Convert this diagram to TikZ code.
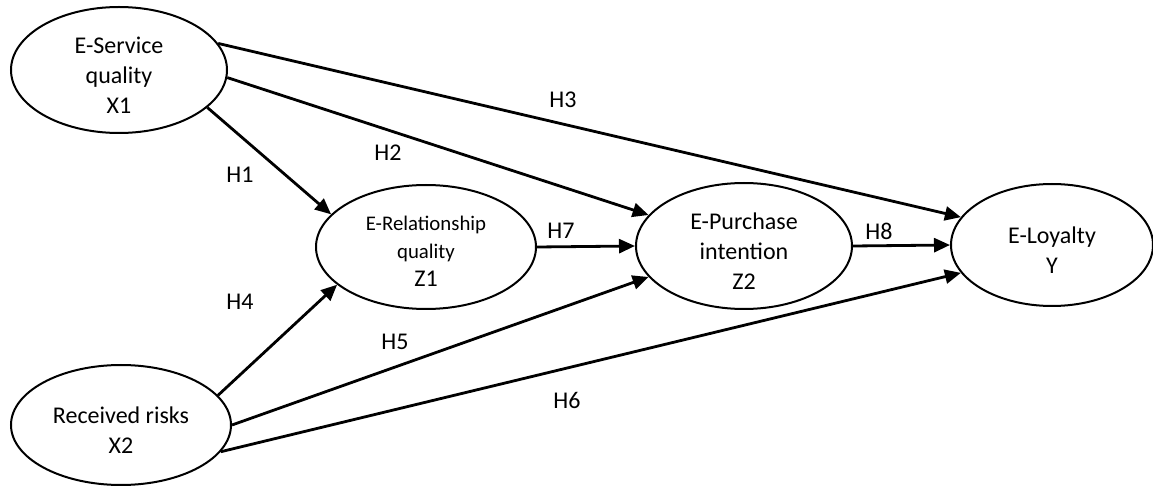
\documentclass[tikz,border=0pt]{standalone}
\usepackage{fontspec}
\setmainfont{Carlito}
\usetikzlibrary{shapes.geometric,arrows.meta}
\begin{document}
\begin{tikzpicture}[x=0.5pt,y=-0.5pt,
  construct/.style={draw,ellipse,line width=1pt,inner sep=0pt},
  ctext/.style={align=center,inner sep=0pt,yshift=-2.5pt,font=\fontsize{12}{15}\selectfont},
  csmall/.style={align=center,inner sep=0pt,yshift=-2pt,font=\fontsize{10.4}{14}\selectfont},
  link/.style={line width=1.4pt,-{Triangle[length=8pt,width=7pt]}},
  hyp/.style={font=\fontsize{12}{14}\selectfont,inner sep=0pt}]
\useasboundingbox (0,0) rectangle (1153,486);
\node[construct,minimum width=108pt,minimum height=63pt,
  label={[ctext]center:{E-Service\\quality\\X1}}] (X1) at (119,70) {};
\node[construct,minimum width=110pt,minimum height=60pt,
  label={[ctext]center:{Received risks\\X2}}] (X2) at (121,425) {};
\node[construct,minimum width=110pt,minimum height=62pt,
  label={[csmall]center:{E-Relationship\\quality\\\fontsize{12}{14}\selectfont Z1}}] (Z1) at (426,247) {};
\node[construct,minimum width=108pt,minimum height=63pt,
  label={[ctext]center:{E-Purchase\\intention\\Z2}}] (Z2) at (744,246) {};
\node[construct,minimum width=101pt,minimum height=61pt,
  label={[ctext]center:{E-Loyalty\\Y}}] (Y) at (1052,245) {};

\draw[link] (X1.-23) -- (Z1.161);
\draw[link] (X1.-4) -- (Z2.162.6);
\draw[link] (X1.15.6) -- (Y.163);
\draw[link] (X2.17.5) -- (Z1.203);
\draw[link] (X2.0.5) -- (Z2.198);
\draw[link] (X2.-15) -- (Y.197);
\draw[link] (Z1.east) -- (Z2.west);
\draw[link] (Z2.east) -- (Y.west);

\node[hyp] (h1) at (240,175) {H1};
\node[hyp] (h2) at (388,153) {H2};
\node[hyp] (h3) at (563,100) {H3};
\node[hyp] (h4) at (240,302) {H4};
\node[hyp] (h5) at (395,342) {H5};
\node[hyp] (h6) at (567,400) {H6};
\node[hyp] (h7) at (561,231) {H7};
\node[hyp] (h8) at (879,231) {H8};
\end{tikzpicture}
\end{document}
